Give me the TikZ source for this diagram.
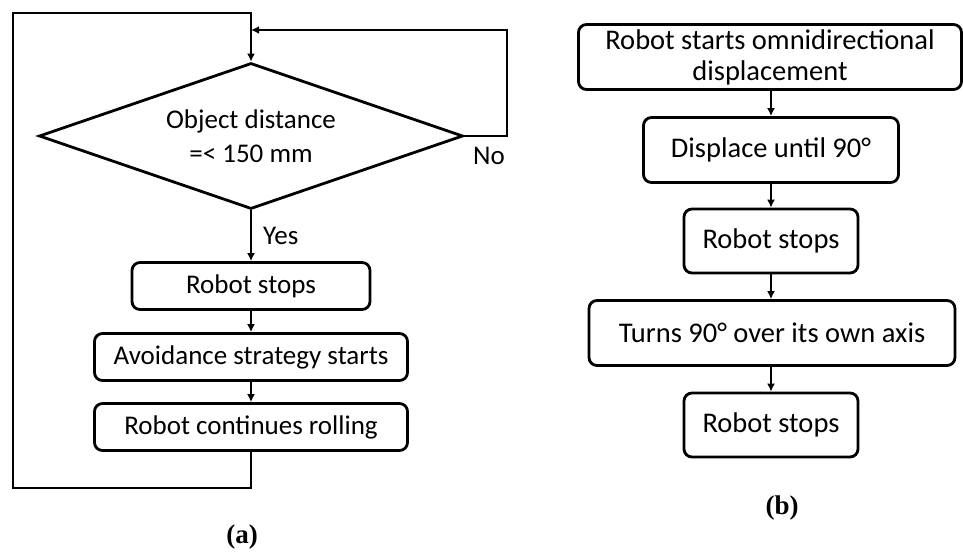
\documentclass[tikz,border=0pt]{standalone}
\usepackage{fontspec}
\setmainfont{Carlito}
\newfontfamily\capfont{Liberation Serif}
\usetikzlibrary{shapes.geometric,arrows.meta}
\begin{document}
\begin{tikzpicture}[x=1pt,y=-1pt,
  box/.style={draw,line width=2.8pt,rounded corners=8pt,inner sep=0pt,align=center,font=\fontsize{27}{31}\selectfont},
  rbox/.style={box,font=\fontsize{28.5}{31}\selectfont},
  conn/.style={line width=1.8pt},
  arr/.style={conn,-{Latex[length=8pt,width=8pt]}},
  lbl/.style={font=\fontsize{27}{30}\selectfont},
  captionlbl/.style={font=\capfont\bfseries\fontsize{27}{30}\selectfont}]
\useasboundingbox (0,0) rectangle (963,554);
% (a)
\node[draw,diamond,line width=2.8pt,aspect=2.9,inner sep=0pt,minimum width=424pt,minimum height=146pt,align=center,font=\fontsize{27}{34}\selectfont] (d) at (251,136) {Object distance\\=< 150 mm};
\node[box,minimum width=238pt,minimum height=47pt] (s1) at (251,286) {Robot stops};
\node[box,minimum width=313pt,minimum height=47pt] (s2) at (251,357) {Avoidance strategy starts};
\node[box,minimum width=313pt,minimum height=47pt] (s3) at (251,427) {Robot continues rolling};
\coordinate (j) at (251,30);
\draw[arr] (d.south) -- (s1.north) node[midway,right,lbl,xshift=8pt] {Yes};
\draw[arr] (s1) -- (s2);
\draw[arr] (s2) -- (s3);
\draw[arr] (s3.south) |- (13,488) -- (13,13) -| (d.north);
\draw[arr] (d.east) -- (507,136) |- (j);
\node[lbl] (no) at (489,156) {No};
\node[captionlbl] (ca) at (242,537) {(a)};
% (b)
\node[rbox,minimum width=383pt,minimum height=65pt] (b1) at (770,57) {Robot starts omnidirectional\\displacement};
\node[rbox,minimum width=255pt,minimum height=65pt] (b2) at (771,150) {Displace until 90°};
\node[rbox,minimum width=174pt,minimum height=64pt] (b3) at (771,241) {Robot stops};
\node[rbox,minimum width=366pt,minimum height=65pt] (b4) at (772,333) {Turns 90° over its own axis};
\node[rbox,minimum width=174pt,minimum height=64pt] (b5) at (771,425) {Robot stops};
\draw[arr] (b1.south -| b3) -- (b2.north -| b3);
\draw[arr] (b2.south -| b3) -- (b3.north);
\draw[arr] (b3.south) -- (b4.north -| b3);
\draw[arr] (b4.south -| b3) -- (b5.north);
\node[captionlbl] (cb) at (782,508) {(b)};
\end{tikzpicture}
\end{document}
